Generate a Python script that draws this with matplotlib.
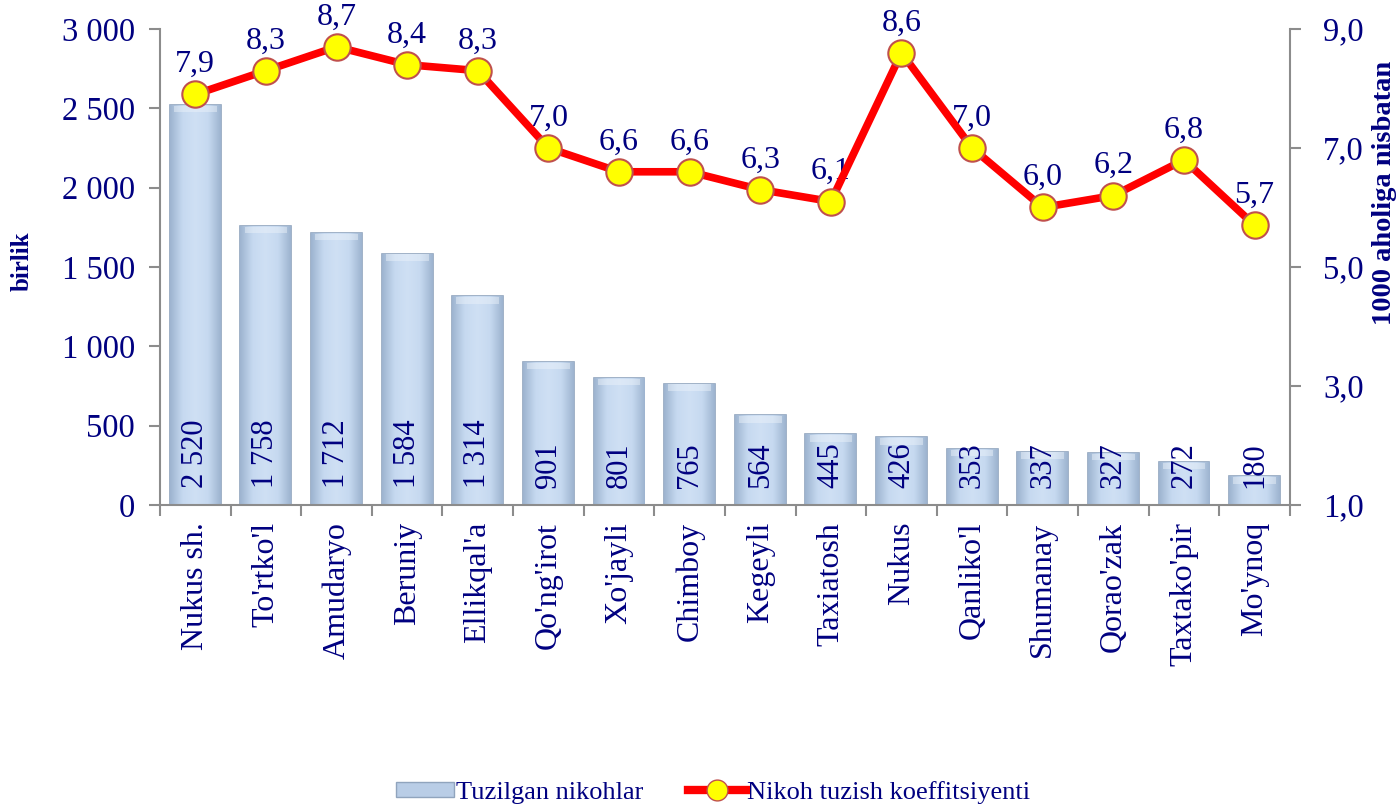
import matplotlib
matplotlib.use("Agg")
import matplotlib.pyplot as plt
import numpy as np
from matplotlib.lines import Line2D
from matplotlib.patches import Patch
from matplotlib.colors import LinearSegmentedColormap

categories = ["Nukus sh.", "To'rtko'l", "Amudaryo", "Beruniy", "Ellikqal'a", "Qo'ng'irot",
              "Xo'jayli", "Chimboy", "Kegeyli", "Taxiatosh", "Nukus", "Qanliko'l",
              "Shumanay", "Qorao'zak", "Taxtako'pir", "Mo'ynoq"]
marriages = [2520, 1758, 1712, 1584, 1314, 901, 801, 765, 564, 445, 426, 353, 337, 327, 272, 180]
rate = [7.9, 8.3, 8.7, 8.4, 8.3, 7.0, 6.6, 6.6, 6.3, 6.1, 8.6, 7.0, 6.0, 6.2, 6.8, 5.7]
left_ticks = [0, 500, 1000, 1500, 2000, 2500, 3000]
right_ticks = [1.0, 3.0, 5.0, 7.0, 9.0]

plt.rcParams['font.family'] = ['Liberation Serif', 'DejaVu Serif']
navy = '#000080'
grey = '#8c8c8c'

fig = plt.figure(figsize=(13.96, 8.05), dpi=100)
ax = fig.add_axes([0.1146, 0.3727, 0.8094, 0.5913])
x = np.arange(len(categories))

bars = ax.bar(x, marriages, width=0.72, color='#c6d9f0', edgecolor='#90a4bd', linewidth=1.2, zorder=2)

# horizontal gradient inside bars (bevel look)
cmap = LinearSegmentedColormap.from_list('bev', ['#9db3cf', '#c6d9f0', '#cfe0f4', '#c6d9f0', '#9db3cf'])
grad = np.linspace(0, 1, 256).reshape(1, -1)
for b in bars:
    bx, by = b.get_x(), b.get_y()
    w, h = b.get_width(), b.get_height()
    im = ax.imshow(grad, cmap=cmap, aspect='auto', extent=(bx, bx + w, by, by + h),
                   zorder=2.5, interpolation='bicubic')
    im.set_clip_path(b)
    # top bevel highlight
    ax.fill_between([bx + w * 0.08, bx + w * 0.92], by + h - 45, by + h - 5,
                    color='#eef4fb', alpha=0.45, zorder=2.6, linewidth=0)

def fmt(v):
    return f"{v:,}".replace(",", " ")

for xi, v in zip(x, marriages):
    ax.text(xi, 110, fmt(v), rotation=90, ha='center', va='bottom', color=navy, fontsize=22, zorder=5)

ax.set_xlim(-0.5, len(categories) - 0.5)
ax.set_ylim(0, 3000)
ax.set_yticks(left_ticks)
ax.set_yticklabels([fmt(t) for t in left_ticks], color=navy, fontsize=23.5)
ax.set_xticks(x)
ax.set_xticklabels(categories, rotation=90, color=navy, fontsize=23)
ax.set_xticks(np.arange(-0.5, len(categories), 1.0), minor=True)
ax.tick_params(axis='x', which='major', length=0, pad=12)
ax.tick_params(axis='x', which='minor', length=8, color=grey, width=1.5)
ax.tick_params(axis='y', length=8, color=grey, width=1.5, pad=10)
for s in ['top', 'right']:
    ax.spines[s].set_visible(False)
for s in ['left', 'bottom']:
    ax.spines[s].set_color(grey)
    ax.spines[s].set_linewidth(1.5)
fig.text(0.016, 0.675, 'birlik', rotation=90, color=navy, fontsize=18, fontweight='bold',
         ha='center', va='center')

ax2 = ax.twinx()
ax2.set_ylim(1.0, 9.0)
ax2.set_yticks(right_ticks)
ax2.set_yticklabels([f"{t:.1f}".replace('.', ',') for t in right_ticks], color=navy, fontsize=23.5)
ax2.tick_params(axis='y', length=8, color=grey, width=1.5, pad=16)
for s in ['top', 'left', 'bottom']:
    ax2.spines[s].set_visible(False)
ax2.spines['right'].set_color(grey)
ax2.spines['right'].set_linewidth(1.5)
ax2.plot(x, rate, color='#ff0000', linewidth=5.5, marker='o', markersize=19,
         markerfacecolor='#ffff00', markeredgecolor='#c0504d', markeredgewidth=1.5, zorder=4)
for xi, v in zip(x, rate):
    ax2.annotate(f"{v:.1f}".replace('.', ','), (xi, v), xytext=(0, 11), textcoords='offset points',
                 ha='center', va='bottom', color=navy, fontsize=23)
fig.text(0.992, 0.76, '1000 aholiga nisbatan', rotation=90, color=navy, fontsize=20.5,
         fontweight='bold', ha='center', va='center')

handles = [Patch(facecolor='#b9cde6', edgecolor='#90a4bd'),
           Line2D([0], [0], color='#ff0000', linewidth=6, marker='o', markersize=15,
                  markerfacecolor='#ffff00', markeredgecolor='#c0504d')]
fig.legend(handles, ['Tuzilgan nikohlar', 'Nikoh tuzish koeffitsiyenti'], loc='center',
           bbox_to_anchor=(0.511, 0.016), ncol=2, frameon=False, fontsize=19,
           labelcolor=navy, handlelength=2.2, handleheight=0.5, columnspacing=1.7, handletextpad=0.05)

fig.savefig('out.png', dpi=100)
